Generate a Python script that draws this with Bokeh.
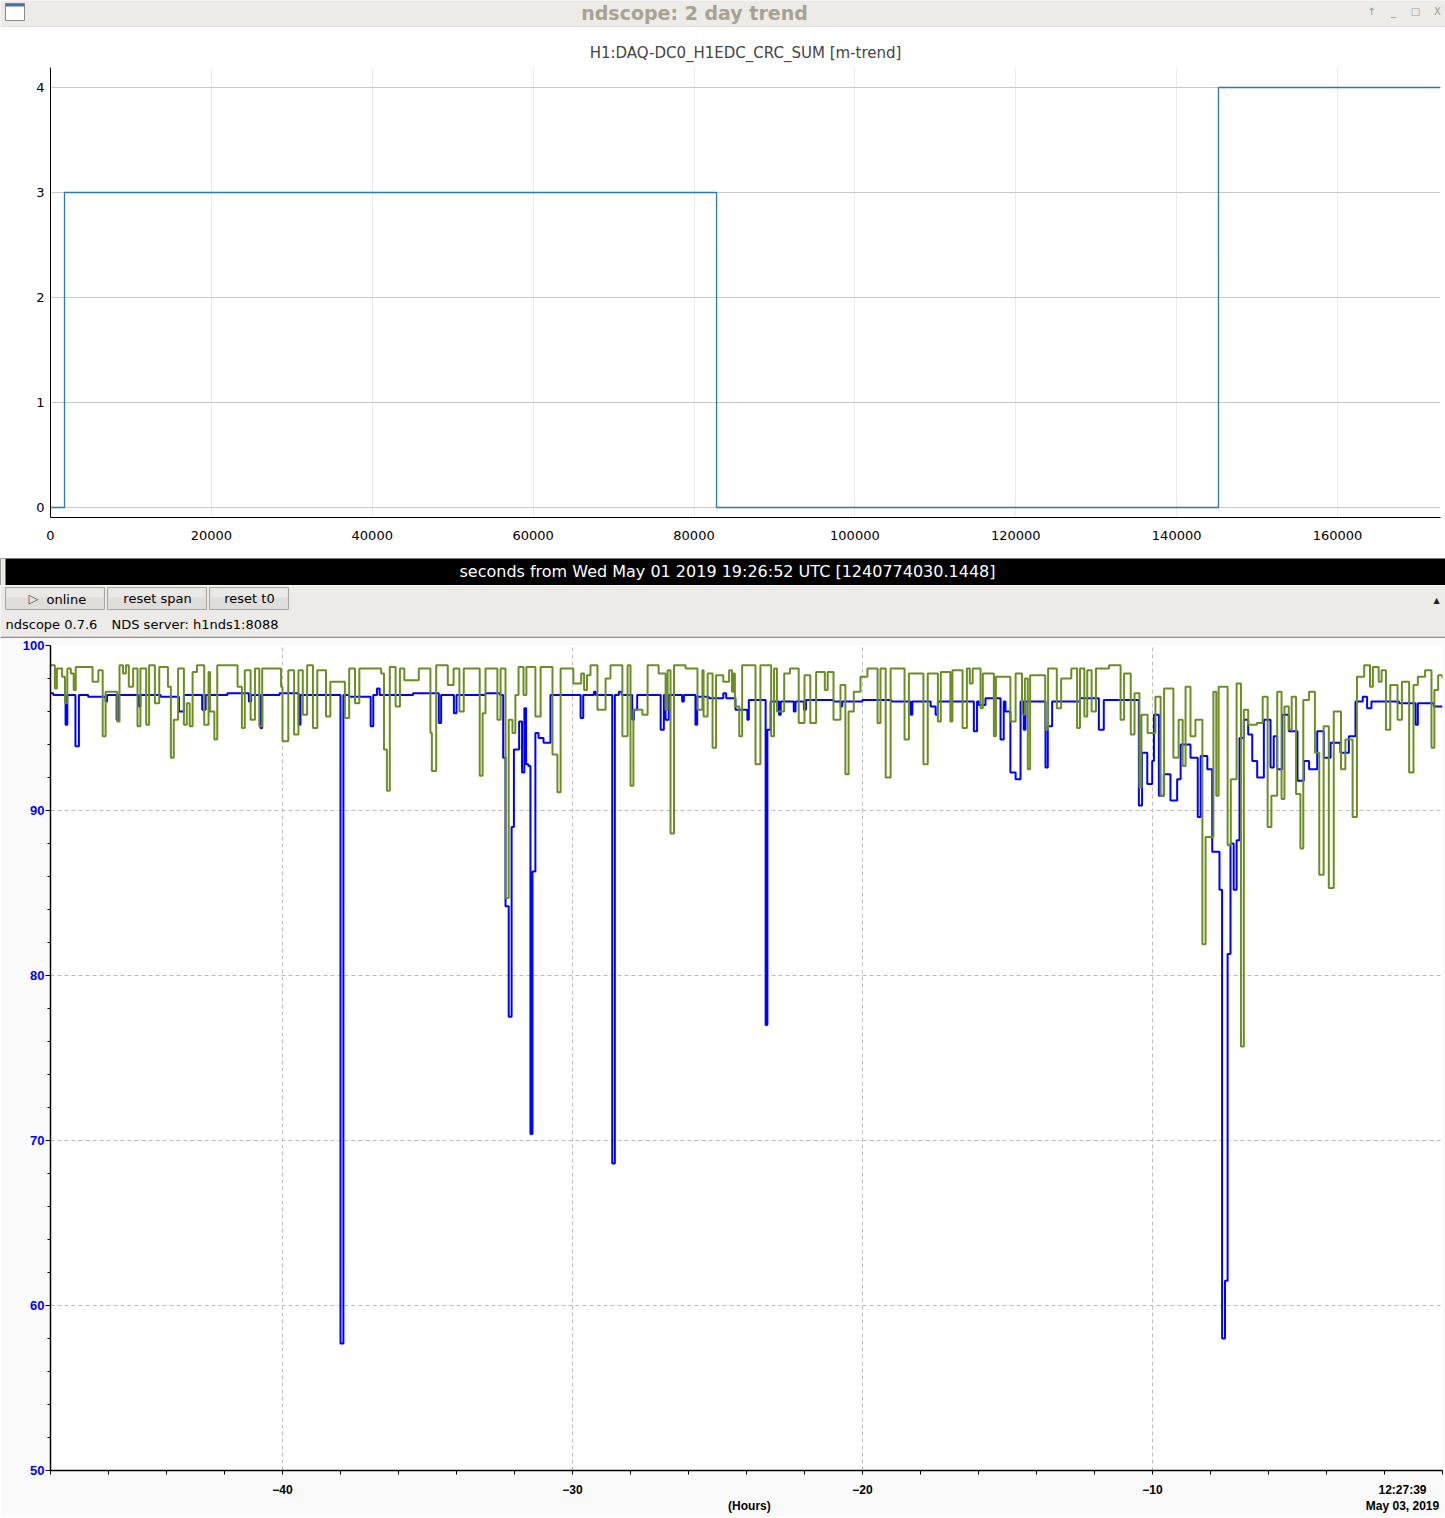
from bokeh.plotting import figure
from bokeh.models import Range1d, FixedTicker, BasicTickFormatter
from bokeh.layouts import column
from bokeh.embed import file_html
from bokeh.resources import INLINE
from bokeh.core.properties import value

# ---------------- data ----------------
WINDOW_TITLE = "ndscope: 2 day trend"
TOP_TITLE = "H1:DAQ-DC0_H1EDC_CRC_SUM [m-trend]"
T0_TEXT = "seconds from Wed May 01 2019 19:26:52 UTC [1240774030.1448]"
BUTTONS = ["online", "reset span", "reset t0"]
STATUS_1 = "ndscope 0.7.6"
STATUS_2 = "NDS server: h1nds1:8088"

# top plot: CRC sum (seconds from t0)
crc_t = [0, 1740, 82800, 145200, 172800]
crc_v = [0, 3, 0, 4, 4]
top_xticks = [0, 20000, 40000, 60000, 80000, 100000, 120000, 140000, 160000]
top_yticks = [0, 1, 2, 3, 4]

# bottom plot (hours before 12:27:39 May 03, 2019)
green_t = [-48.0, -47.85, -47.78, -47.6, -47.5, -47.42, -47.3, -47.2, -47.13, -46.55,
           -46.35, -46.2, -46.1, -45.7, -45.62, -45.5, -45.4, -45.3, -45.15, -45.0,
           -44.9, -44.7, -44.6, -44.4, -44.25, -43.95, -43.85, -43.75, -43.6, -43.4,
           -43.3, -43.2, -43.1, -42.95, -42.7, -42.55, -42.5, -42.35, -42.25, -41.55,
           -41.4, -41.3, -41.1, -40.95, -40.8, -40.7, -40.05, -40.0, -39.8, -39.6,
           -39.45, -39.3, -39.15, -38.95, -38.8, -38.5, -38.35, -37.85, -37.7, -37.5,
           -37.35, -36.6, -36.5, -36.4, -36.3, -36.1, -35.95, -35.8, -35.3, -34.9,
           -34.85, -34.7, -34.3, -34.1, -33.9, -33.75, -33.2, -33.1, -33.0, -32.59,
           -32.48, -32.31, -32.2, -32.07, -31.97, -31.86, -31.69, -31.59, -31.28, -31.1,
           -30.69, -30.52, -30.41, -29.97, -29.7, -29.6, -29.5, -29.38, -29.14, -28.86,
           -28.69, -28.28, -28.1, -28.0, -27.9, -27.59, -27.41, -27.03, -26.79, -26.72,
           -26.62, -26.5, -26.1, -25.69, -25.52, -25.48, -25.34, -25.17, -25.05, -24.8,
           -24.6, -24.5, -24.45, -24.4, -24.25, -24.15, -23.69, -23.52, -23.15, -23.05,
           -22.95, -22.7, -22.5, -22.2, -22.0, -21.8, -21.6, -21.3, -21.2, -21.0,
           -20.76, -20.59, -20.48, -20.3, -20.07, -19.83, -19.48, -19.38, -19.2, -19.03,
           -18.55, -18.4, -17.9, -17.75, -17.4, -17.3, -16.97, -16.9, -16.55, -16.4,
           -16.3, -16.2, -15.93, -15.85, -15.47, -15.4, -14.9, -14.72, -14.5, -14.4,
           -14.3, -14.22, -13.7, -13.6, -13.3, -13.15, -12.8, -12.6, -12.5, -12.35,
           -12.25, -12.1, -11.95, -11.5, -11.1, -10.98, -10.75, -10.62, -10.45, -10.38,
           -10.17, -9.9, -9.72, -9.6, -9.28, -9.1, -8.96, -8.86, -8.69, -8.52,
           -8.28, -8.17, -7.9, -7.8, -7.72, -7.41, -7.3, -7.1, -6.95, -6.85,
           -6.7, -6.4, -6.2, -6.03, -5.9, -5.7, -5.55, -5.45, -5.3, -5.2,
           -5.05, -4.9, -4.8, -4.6, -4.4, -4.25, -4.1, -3.92, -3.75, -3.5,
           -3.35, -3.1, -2.95, -2.7, -2.5, -2.4, -2.2, -2.1, -1.95, -1.8,
           -1.55, -1.4, -1.15, -1.0, -0.85, -0.6, -0.38, -0.28, -0.15, 0.0]
green_v = [98.8, 97.4, 98.6, 98.1, 96.5, 98.6, 98.3, 97.3, 98.7, 97.8,
           98.5, 94.5, 97.2, 95.4, 98.8, 98.3, 98.8, 97.5, 98.6, 95.1,
           98.6, 95.2, 98.8, 96.5, 98.7, 97.5, 93.2, 95.5, 98.6, 95.2,
           96.5, 95.1, 98.4, 98.8, 95.2, 98.4, 96.0, 94.3, 98.8, 97.5,
           95.0, 98.5, 95.5, 98.6, 95.1, 98.6, 97.5, 94.2, 98.5, 94.6,
           98.5, 95.8, 98.8, 95.0, 98.5, 95.7, 97.8, 95.6, 98.6, 96.5,
           98.6, 98.3, 93.7, 91.2, 98.7, 96.3, 98.6, 97.9, 98.6, 94.7,
           92.4, 98.8, 97.6, 98.6, 96.0, 98.6, 92.1, 95.9, 98.6, 95.5,
           98.6, 84.7, 95.5, 94.7, 97.0, 98.7, 97.0, 98.7, 95.7, 98.7,
           93.4, 91.1, 98.6, 97.7, 98.3, 97.3, 98.2, 98.8, 96.1, 98.0,
           98.8, 94.5, 98.8, 91.5, 96.1, 95.8, 98.8, 98.3, 96.1, 98.5,
           88.6, 98.8, 98.6, 96.1, 98.5, 95.7, 98.3, 93.8, 98.2, 97.8,
           98.5, 97.2, 98.3, 96.3, 94.5, 98.8, 92.8, 98.8, 94.5, 98.6,
           96.0, 98.3, 98.6, 95.3, 98.2, 95.3, 98.4, 97.3, 98.4, 95.5,
           97.6, 92.2, 96.0, 97.2, 98.1, 98.6, 95.3, 98.6, 92.0, 98.6,
           94.3, 98.3, 92.8, 98.3, 95.4, 98.4, 95.4, 98.5, 95.0, 98.6,
           97.7, 98.6, 96.2, 98.3, 94.5, 98.1, 95.4, 98.3, 95.8, 98.0,
           92.5, 98.2, 94.9, 98.6, 96.2, 98.0, 98.6, 95.0, 98.6, 95.7,
           98.5, 96.0, 98.6, 98.8, 95.5, 98.3, 94.6, 97.1, 91.4, 95.8,
           94.7, 96.9, 90.9, 97.4, 93.2, 95.5, 92.7, 97.5, 94.5, 95.5,
           81.9, 88.4, 97.2, 90.9, 97.5, 87.9, 91.9, 97.7, 75.7, 96.1,
           95.2, 95.3, 96.9, 89.0, 90.9, 97.2, 90.7, 96.3, 94.9, 96.9,
           91.0, 87.7, 96.7, 97.2, 93.5, 86.1, 95.1, 85.3, 96.0, 92.5,
           94.3, 89.6, 98.1, 98.8, 97.5, 98.7, 97.8, 98.5, 94.9, 97.6,
           95.5, 97.8, 92.3, 97.6, 98.1, 98.5, 93.8, 97.3, 98.2, 98.0]

blue_t = [-48.0, -47.9, -47.48, -47.42, -47.14, -47.02, -46.7, -46.1, -46.05, -45.72,
          -45.65, -44.95, -44.9, -44.2, -43.57, -43.4, -42.77, -42.65, -41.9, -41.16,
          -41.08, -40.76, -40.7, -40.1, -39.44, -39.38, -38.0, -37.9, -37.7, -36.96,
          -36.87, -36.74, -36.65, -35.5, -34.61, -34.53, -34.09, -34.0, -33.0, -32.5,
          -32.39, -32.31, -32.2, -32.1, -32.02, -31.84, -31.74, -31.66, -31.6, -31.52,
          -31.45, -31.38, -31.28, -31.17, -31.0, -30.76, -29.72, -29.63, -29.26, -29.2,
          -28.63, -28.54, -28.4, -28.3, -27.94, -27.88, -27.77, -26.96, -26.85, -26.79,
          -26.68, -26.22, -26.16, -25.76, -25.7, -25.3, -24.8, -24.7, -24.38, -23.97,
          -23.92, -23.34, -23.28, -23.17, -22.88, -22.82, -22.37, -22.31, -22.02, -21.95,
          -21.0, -20.75, -20.7, -20.0, -19.0, -18.34, -18.28, -17.65, -17.48, -17.4,
          -16.16, -16.05, -15.99, -15.76, -15.24, -15.13, -15.07, -14.9, -14.72, -14.55,
          -14.44, -14.38, -13.69, -13.61, -13.46, -12.5, -11.85, -11.68, -10.47, -10.36,
          -10.18, -10.01, -9.95, -9.78, -9.61, -9.38, -9.15, -9.03, -8.69, -8.44,
          -8.34, -8.11, -7.94, -7.69, -7.6, -7.5, -7.41, -7.31, -7.2, -7.1,
          -7.0, -6.85, -6.7, -6.56, -6.39, -6.16, -5.93, -5.82, -5.7, -5.53,
          -5.3, -5.0, -4.78, -4.6, -4.32, -4.09, -3.86, -3.52, -3.23, -3.0,
          -2.75, -2.6, -2.45, -1.5, -0.93, -0.85, -0.3, 0.0]
blue_v = [97.1, 97.0, 95.2, 97.0, 93.9, 97.0, 96.9, 96.6, 97.0, 95.5,
          97.0, 96.3, 97.0, 96.9, 96.0, 97.0, 96.1, 97.0, 97.1, 96.6,
          97.0, 95.0, 97.0, 97.1, 95.2, 97.0, 57.7, 97.0, 96.9, 95.1,
          97.0, 97.4, 97.0, 97.1, 95.3, 97.0, 95.9, 97.0, 97.1, 97.0,
          93.2, 84.2, 77.5, 89.0, 93.7, 95.4, 92.3, 96.2, 92.8, 92.7,
          70.4, 86.3, 94.7, 94.4, 94.1, 97.0, 95.6, 97.0, 97.2, 97.0,
          68.6, 97.0, 97.2, 97.0, 95.5, 96.1, 97.0, 94.9, 97.0, 95.5,
          97.0, 96.6, 97.0, 95.2, 96.9, 96.8, 97.1, 96.8, 96.1, 95.5,
          96.7, 77.0, 94.9, 96.6, 95.8, 96.6, 96.0, 96.6, 96.1, 96.7,
          96.6, 96.3, 96.6, 96.7, 96.6, 95.8, 96.6, 96.3, 95.8, 96.6,
          94.8, 96.6, 96.4, 96.8, 94.3, 96.6, 96.0, 92.3, 91.9, 96.6,
          94.9, 96.6, 92.6, 95.1, 96.6, 96.8, 94.9, 96.7, 90.3, 93.5,
          91.6, 93.0, 95.8, 90.9, 92.2, 90.6, 91.9, 94.0, 93.2, 89.6,
          93.3, 92.5, 87.5, 85.2, 58.0, 61.5, 81.3, 88.0, 85.2, 88.2,
          94.4, 95.5, 94.6, 93.0, 92.0, 95.5, 92.6, 94.5, 92.5, 95.8,
          94.8, 91.8, 93.0, 92.5, 94.8, 93.2, 94.1, 93.5, 94.5, 96.6,
          96.9, 96.2, 96.6, 96.5, 95.2, 96.5, 96.3, 96.3]

hour_ticks = [-40, -30, -20, -10]
hour_minor = list(range(-48, 1, 2))
END_POS = -1.38
END_LABEL = "12:27:39\nMay 03, 2019"
XLABEL_POS = -23.9
X_LABEL = "\n(Hours)"
pct_ticks = [50, 60, 70, 80, 90, 100]
pct_minor = list(range(50, 101, 2))

# ---------------- layout ----------------
W = 1445
FONT = "DejaVu Sans"
BFONT = "Liberation Sans"
PANEL = "#edebe8"


def deco(h, bg):
    p = figure(width=W, height=h, x_range=Range1d(0, W), y_range=Range1d(h, 0),
               toolbar_location=None, output_backend="svg",
               x_axis_location=None, y_axis_location=None, min_border=0,
               min_border_left=0, min_border_right=0, min_border_top=0, min_border_bottom=0)
    p.frame_align = False
    p.xgrid.visible = False
    p.ygrid.visible = False
    p.outline_line_color = None
    p.background_fill_color = bg
    p.border_fill_color = bg
    return p


def txt(p, x, y, s, size, color="#000000", align="left", style="normal", font=FONT):
    p.text(x=[x], y=[y], text=[s], text_font=value(font), text_font_size=size,
           text_color=color, text_align=align, text_baseline="middle", text_font_style=style)


# window title bar
tb = deco(27, PANEL)
tb.quad(left=[5], right=[24], top=[3], bottom=[20], fill_color="white", line_color="#8a8a8a")
tb.quad(left=[5], right=[24], top=[3], bottom=[6], fill_color="#4a6ea8", line_color=None)
txt(tb, 694, 12, WINDOW_TITLE, "19px", "#aaa291", "center", "bold")
for xx, s in [(1371, "\u2191"), (1393, "_"), (1415, "\u25a1"), (1437, "X")]:
    txt(tb, xx, 11, s, "10px", "#999999", "center")
tb.segment(x0=[0], y0=[26.5], x1=[W], y1=[26.5], line_color="#d6d4d0")

# top plot
top = figure(width=W, height=531, x_range=Range1d(0, 172800), y_range=Range1d(-0.0952, 4.1905),
             toolbar_location=None, output_backend="svg", title=TOP_TITLE,
             min_border_left=50, min_border_right=5, min_border_top=40, min_border_bottom=41)
top.frame_align = False
top.title.align = "center"
top.title.text_font = FONT
top.title.text_font_size = "15px"
top.title.text_font_style = "normal"
top.title.standoff = 11
top.outline_line_color = None
top.step(x=crc_t, y=crc_v, mode="after", line_color="#2b78b4", line_width=1.3)
top.xaxis.ticker = FixedTicker(ticks=top_xticks)
top.xaxis.formatter = BasicTickFormatter(use_scientific=False)
top.yaxis.ticker = FixedTicker(ticks=top_yticks)
for ax in top.axis:
    ax.major_tick_out = 0
    ax.major_tick_in = 0
    ax.minor_tick_out = 0
    ax.minor_tick_in = 0
    ax.axis_line_color = "#000000"
    ax.major_label_text_font = FONT
    ax.major_label_text_font_size = "13px"
    ax.major_label_text_color = "#000000"
top.xaxis.major_label_standoff = 13
top.yaxis.major_label_standoff = 6
top.ygrid.grid_line_color = "#c8c8c8"
top.xgrid.grid_line_color = "#ebebeb"

# black t0 bar
bar = deco(27, "#000000")
bar.quad(left=[0], right=[5], top=[0], bottom=[27], fill_color="#ecebe8", line_color=None)
txt(bar, 727, 13, T0_TEXT, "16px", "#ffffff", "center")

# controls
ctl = deco(53, PANEL)
for (l, r) in [(5, 104), (107, 206), (209, 288)]:
    ctl.quad(left=[l], right=[r], top=[2], bottom=[24], fill_color="#e0deda", line_color="#a9a6a1")
    ctl.quad(left=[l + 1], right=[r - 1], top=[3], bottom=[12], fill_color="#ebe9e6", line_color=None)
txt(ctl, 28, 13, "\u25b7", "13px", "#555555", "left")
txt(ctl, 46, 14, BUTTONS[0], "13px")
txt(ctl, 157, 13, BUTTONS[1], "13px", align="center")
txt(ctl, 249, 13, BUTTONS[2], "13px", align="center")
txt(ctl, 5, 39, STATUS_1, "13px")
txt(ctl, 111, 39, STATUS_2, "13px")
txt(ctl, 1436, 15, "\u25b2", "8px", "#222222", "center")
ctl.segment(x0=[0], y0=[52], x1=[W], y1=[52], line_color="#8c8c8c", line_width=1.5)

# bottom plot
bot = figure(width=W, height=878, x_range=Range1d(-48, 0), y_range=Range1d(50, 100),
             toolbar_location=None, output_backend="svg",
             min_border_left=50, min_border_right=3, min_border_top=7, min_border_bottom=43)
bot.frame_align = False
bot.outline_line_color = None
bot.border_fill_color = "#fafafa"
bot.step(x=blue_t, y=blue_v, mode="after", line_color="#0000ff", line_width=2)
bot.step(x=green_t, y=green_v, mode="after", line_color="#6b8e23", line_width=2)
bot.xaxis.ticker = FixedTicker(ticks=sorted(hour_ticks + [END_POS, XLABEL_POS]), minor_ticks=hour_minor)
bot.xaxis.major_label_overrides = {END_POS: END_LABEL, XLABEL_POS: X_LABEL}
bot.yaxis.ticker = FixedTicker(ticks=pct_ticks, minor_ticks=pct_minor)
for ax in bot.axis:
    ax.axis_line_color = "#000000"
    ax.axis_line_width = 1.5
    ax.major_tick_in = 0
    ax.minor_tick_in = 0
    ax.major_label_text_font = BFONT
    ax.major_label_text_font_style = "bold"
    ax.major_label_text_font_size = "12px"
bot.xaxis.major_tick_out = 0
bot.xaxis.minor_tick_out = 4
bot.xaxis.major_label_standoff = 8
bot.xaxis.major_label_text_color = "#000000"
bot.yaxis.major_tick_out = 5
bot.yaxis.minor_tick_out = 3
bot.yaxis.major_label_standoff = 1
bot.yaxis.major_label_text_font_size = "13px"
bot.yaxis.major_label_text_color = "#0000ff"
bot.xgrid.ticker = FixedTicker(ticks=hour_ticks + [0])
for g in (bot.xgrid, bot.ygrid):
    g.grid_line_color = "#bdbdbd"
    g.grid_line_dash = "4 3"
    g.grid_line_width = 1

page = column(tb, top, bar, ctl, bot, spacing=0)
open("out.html", "w").write(file_html(page, INLINE))
